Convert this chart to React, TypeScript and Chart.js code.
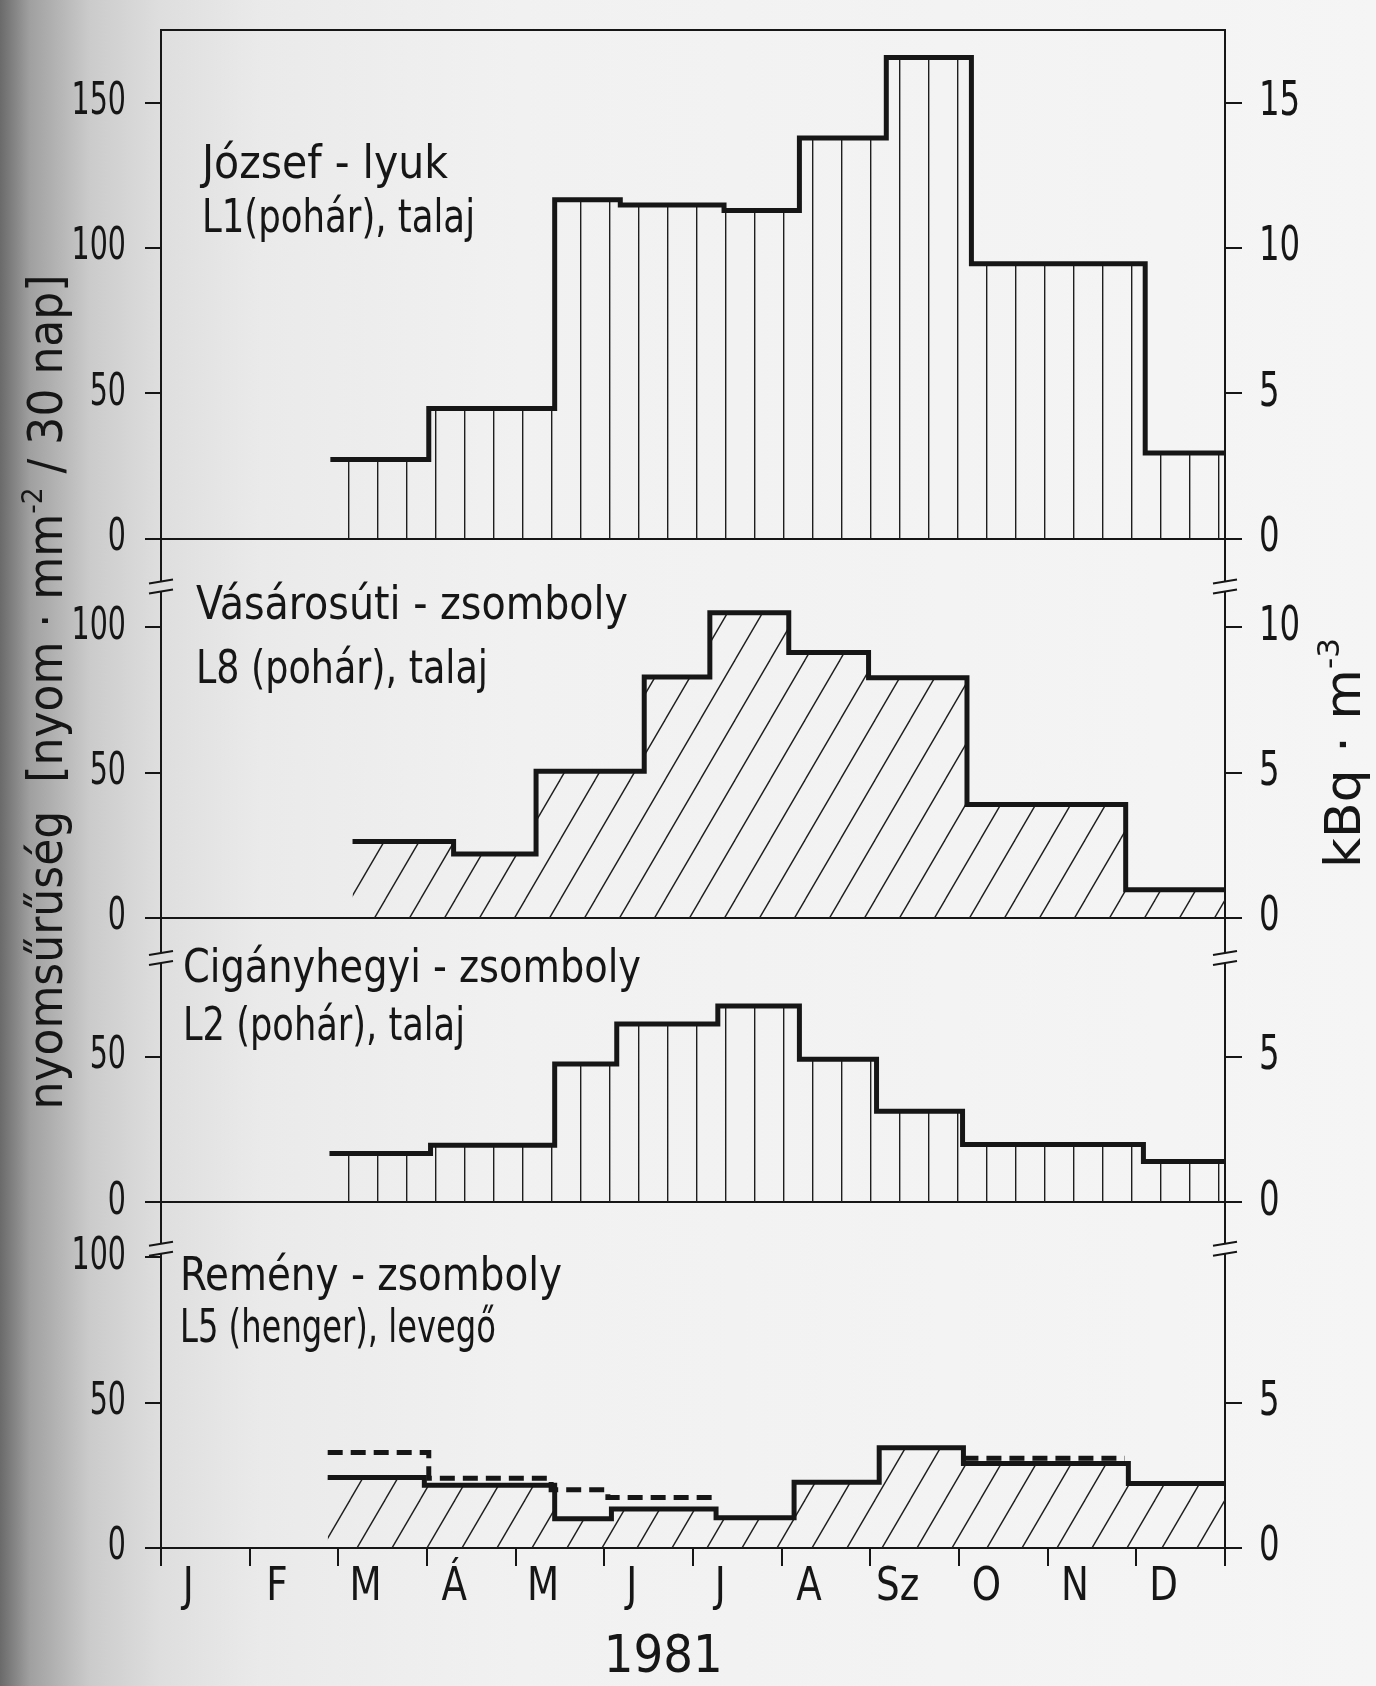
import React, { useEffect, useRef } from 'react';
import { Chart, registerables, LinearScale } from 'chart.js';

// Linear scale whose tick labels are drawn horizontally condensed (narrow lettering)
class CondensedLinearScale extends (LinearScale as any) {
  static id = 'condensedLinear';
  static defaults = LinearScale.defaults;
  drawLabels(chartArea: any) {
    const self: any = this;
    if (!self.options.ticks.display) return;
    const k = self.options.condense || 1;
    const ctx: CanvasRenderingContext2D = self.ctx;
    const items = self.getLabelItems(chartArea);
    for (const item of items) {
      const o = item.options;
      ctx.save();
      ctx.translate(o.translation[0], o.translation[1]);
      if (o.rotation) ctx.rotate(o.rotation);
      ctx.scale(k, 1);
      ctx.font = item.font.string;
      ctx.fillStyle = o.color;
      ctx.textAlign = o.textAlign;
      ctx.textBaseline = o.textBaseline;
      const lines = Array.isArray(item.label) ? item.label : [item.label];
      lines.forEach((ln: any, j: number) => ctx.fillText(String(ln), 0, item.textOffset + j * item.font.lineHeight));
      ctx.restore();
    }
  }
}

Chart.register(...registerables, CondensedLinearScale as any);

const FONT = "'Liberation Sans Narrow', 'DejaVu Sans Condensed', 'Liberation Sans', 'DejaVu Sans', sans-serif";
const INK = '#161616';

// ---- axis labels ----
const monthLabels = ['J', 'F', 'M', 'Á', 'M', 'J', 'J', 'A', 'Sz', 'O', 'N', 'D'];
const yearLabel = '1981';
const leftTitle = 'nyomsűrűség';
const leftUnitA = '[nyom · mm';
const leftUnitSup = '-2';
const leftUnitB = ' / 30 nap]';
const rightUnit = 'kBq · m';
const rightUnitSup = '-3';

// ---- panel titles ----
const panelNames = ['József - lyuk', 'Vásárosúti - zsomboly', 'Cigányhegyi - zsomboly', 'Remény - zsomboly'];
const panelSubs = ['L1(pohár), talaj', 'L8 (pohár), talaj', 'L2 (pohár), talaj', 'L5 (henger), levegő'];

// ---- ticks ----
const leftTicks = [[0, 50, 100, 150], [0, 50, 100], [0, 50], [0, 50, 100]];
const rightTicks = [[0, 5, 10, 15], [0, 5, 10], [0, 5], [0, 5]];
const panelMin = [-16.5, -13.8, -16, 0];
const panelMax = [175, 114, 84, 103];

// ---- data: step edges (in months from 1 Jan) and values ----
const jozsefEdges = [1.91, 3.02, 4.44, 5.18, 6.35, 7.2, 8.18, 9.14, 11.1, 12.0];
const jozsefValues = [27.2, 44.8, 116.6, 114.8, 112.9, 137.8, 165.5, 94.6, 29.5];

const vasarEdges = [2.16, 3.3, 4.23, 5.45, 6.19, 7.08, 7.98, 9.09, 10.88, 12.0];
const vasarValues = [26.3, 22.0, 50.5, 82.9, 105.0, 91.3, 82.6, 39.0, 9.7];

const ciganyEdges = [1.9, 3.04, 4.44, 5.14, 6.28, 7.2, 8.07, 9.04, 11.08, 12.0];
const ciganyValues = [16.7, 19.6, 47.5, 61.3, 67.5, 49.2, 31.3, 19.8, 14.0];

const remenyEdges = [1.88, 2.97, 4.44, 5.08, 6.26, 7.14, 8.1, 9.05, 10.91, 12.0];
const remenyValues = [24.3, 21.6, 10.1, 13.4, 10.4, 22.6, 34.5, 29.1, 22.2];

const remenyDashEdgesA = [1.88, 3.02, 4.4, 5.04, 6.22];
const remenyDashValuesA = [32.9, 24.0, 20.0, 17.4];
const remenyDashEdgesB = [9.05, 10.87];
const remenyDashValuesB = [30.9];

// ---- layout (pixels) ----
const LEFT_W = 161;
const RIGHT_W = 151;
const TOP_PAD = 30;
const BOTTOM_H = 138;
const titlePos = [
  { x: 202, y1: 178, w1: 246, y2: 232, w2: 273 },
  { x: 196, y1: 619, w1: 432, y2: 683, w2: 292 },
  { x: 183, y1: 982, w1: 458, y2: 1040, w2: 282 },
  { x: 180, y1: 1290, w1: 382, y2: 1342, w2: 316 },
];

function stepPoints(edges: number[], values: number[]) {
  return edges.map((x, i) => ({ x, y: values[Math.min(i, values.length - 1)] }));
}

function vPattern(ctx: CanvasRenderingContext2D) {
  const c = document.createElement('canvas');
  c.width = 29;
  c.height = 8;
  const g = c.getContext('2d')!;
  g.strokeStyle = '#1e1e1e';
  g.lineWidth = 1.4;
  g.beginPath();
  g.moveTo(0.7, 0);
  g.lineTo(0.7, 8);
  g.stroke();
  return ctx.createPattern(c, 'repeat')!;
}

function dPattern(ctx: CanvasRenderingContext2D) {
  const s = 35;
  const h = 60;
  const c = document.createElement('canvas');
  c.width = s;
  c.height = h;
  const g = c.getContext('2d')!;
  g.strokeStyle = '#1e1e1e';
  g.lineWidth = 1.4;
  for (const off of [-s, 0, s]) {
    g.beginPath();
    g.moveTo(off - s * 0.2, h * 1.2);
    g.lineTo(off + s * 1.2, -h * 0.2);
    g.stroke();
  }
  return ctx.createPattern(c, 'repeat')!;
}

type Seg = { t: string; s?: number; dy?: number };

function drawRich(
  ctx: CanvasRenderingContext2D,
  segs: Seg[],
  x: number,
  y: number,
  width: number,
  size: number,
  rotate: boolean,
  align: 'left' | 'center'
) {
  ctx.save();
  const widths = segs.map((sg) => {
    ctx.font = `${size * (sg.s || 1)}px ${FONT}`;
    return ctx.measureText(sg.t).width;
  });
  const total = widths.reduce((a, b) => a + b, 0);
  const k = width / total;
  ctx.translate(x, y);
  if (rotate) ctx.rotate(-Math.PI / 2);
  ctx.scale(k, 1);
  ctx.textBaseline = 'alphabetic';
  ctx.textAlign = 'left';
  ctx.fillStyle = INK;
  let cx = align === 'center' ? -total / 2 : 0;
  segs.forEach((sg, i) => {
    ctx.font = `${size * (sg.s || 1)}px ${FONT}`;
    ctx.fillText(sg.t, cx, -(sg.dy || 0) * size);
    cx += widths[i];
  });
  ctx.restore();
}

const decorPlugin = {
  id: 'decor',
  afterDraw(chart: any) {
    const ctx: CanvasRenderingContext2D = chart.ctx;
    const area = chart.chartArea;
    ctx.save();
    // top frame
    ctx.strokeStyle = INK;
    ctx.lineWidth = 2;
    ctx.beginPath();
    ctx.moveTo(area.left - 1, area.top);
    ctx.lineTo(area.right + 1, area.top);
    ctx.stroke();
    // axis breaks
    const bounds = [chart.scales.y1.bottom, chart.scales.y2.bottom, chart.scales.y3.bottom];
    for (const b of bounds) {
      for (const x of [area.left, area.right]) {
        ctx.clearRect(x - 2, b - 5, 4, 10);
        ctx.beginPath();
        ctx.moveTo(x - 12, b - 3);
        ctx.lineTo(x + 12, b - 7);
        ctx.moveTo(x - 12, b + 7);
        ctx.lineTo(x + 12, b + 3);
        ctx.stroke();
      }
    }
    ctx.restore();
    // panel titles
    panelNames.forEach((name, i) => {
      const p = titlePos[i];
      drawRich(ctx, [{ t: name }], p.x, p.y1, p.w1, 46, false, 'left');
      drawRich(ctx, [{ t: panelSubs[i] }], p.x, p.y2, p.w2, 46, false, 'left');
    });
    // axis titles
    drawRich(
      ctx,
      [{ t: leftTitle + '  ' + leftUnitA }, { t: leftUnitSup, s: 0.6, dy: 0.42 }, { t: leftUnitB }],
      62,
      692,
      835,
      48,
      true,
      'center'
    );
    drawRich(ctx, [{ t: rightUnit }, { t: rightUnitSup, s: 0.6, dy: 0.42 }], 1360, 753, 230, 50, true, 'center');
  },
};

const noPad = (s: any) => {
  s.paddingTop = 0;
  s.paddingBottom = 0;
  s.paddingLeft = 0;
  s.paddingRight = 0;
};

export default function App() {
  const ref = useRef<HTMLCanvasElement>(null);

  useEffect(() => {
    const canvas = ref.current!;
    const ctx = canvas.getContext('2d')!;
    const vp = vPattern(ctx);
    const dp = dPattern(ctx);

    const solid = (data: any[], yAxisID: string, pattern: CanvasPattern) => ({
      type: 'line',
      data,
      xAxisID: 'x',
      yAxisID,
      stepped: 'before',
      fill: 'origin',
      backgroundColor: pattern,
      borderColor: INK,
      borderWidth: 5,
      pointRadius: 0,
      order: 1,
    });

    const dashData = [
      ...stepPoints(remenyDashEdgesA, remenyDashValuesA),
      { x: 7.6, y: null },
      ...stepPoints(remenyDashEdgesB, remenyDashValuesB),
    ];

    const scales: any = {
      x: {
        type: 'condensedLinear',
        condense: 0.9,
        position: 'bottom',
        min: 0,
        max: 12,
        bounds: 'data',
        afterBuildTicks: (s: any) => {
          s.ticks = monthLabels.map((_, i) => ({ value: i + 0.5 }));
        },
        afterFit: (s: any) => {
          s.height = BOTTOM_H;
          noPad(s);
        },
        ticks: {
          autoSkip: false,
          maxRotation: 0,
          padding: -1,
          labelOffset: -17,
          color: INK,
          font: { family: FONT, size: 46, lineHeight: 1 },
          callback: (_v: any, i: number) => monthLabels[i],
        },
        grid: {
          offset: true,
          drawOnChartArea: false,
          drawTicks: true,
          tickLength: 18,
          tickWidth: 2,
          tickColor: INK,
          color: INK,
          lineWidth: 2,
        },
        border: { display: true, color: INK, width: 2 },
        title: {
          display: true,
          text: yearLabel + '    ',
          color: INK,
          font: { family: FONT, size: 52, lineHeight: 1 },
          padding: { top: 0, bottom: 2 },
        },
      },
    };

    panelMin.forEach((mn, i) => {
      const mx = panelMax[i];
      const range = mx - mn;
      scales['y' + (i + 1)] = {
        type: 'condensedLinear',
        condense: 0.72,
        position: 'left',
        stack: 'L',
        stackWeight: range,
        weight: 4 - i,
        min: mn,
        max: mx,
        bounds: 'data',
        afterBuildTicks: (s: any) => {
          s.ticks = leftTicks[i].map((v) => ({ value: v }));
        },
        afterFit: (s: any) => {
          s.width = LEFT_W;
          noPad(s);
        },
        ticks: { autoSkip: false, padding: 19, color: INK, font: { family: FONT, size: 44, lineHeight: 1 } },
        grid: {
          drawOnChartArea: true,
          drawTicks: true,
          tickLength: 16,
          tickWidth: 2,
          tickColor: INK,
          lineWidth: 2,
          color: (c: any) => (c.tick && c.tick.value === 0 ? INK : 'rgba(0,0,0,0)'),
        },
        border: { display: true, color: INK, width: 2 },
      };
      scales['r' + (i + 1)] = {
        type: 'condensedLinear',
        condense: 0.75,
        position: 'right',
        stack: 'R',
        stackWeight: range,
        weight: i + 1,
        min: mn / 10,
        max: mx / 10,
        bounds: 'data',
        afterBuildTicks: (s: any) => {
          s.ticks = rightTicks[i].map((v) => ({ value: v }));
        },
        afterFit: (s: any) => {
          s.width = RIGHT_W;
          noPad(s);
        },
        ticks: { autoSkip: false, padding: 17, color: INK, font: { family: FONT, size: 48, lineHeight: 1 } },
        grid: {
          drawOnChartArea: false,
          drawTicks: true,
          tickLength: 17,
          tickWidth: 2,
          tickColor: INK,
          color: INK,
          lineWidth: 2,
        },
        border: { display: true, color: INK, width: 2 },
      };
    });

    const chart = new Chart(ctx, {
      type: 'line',
      data: {
        datasets: [
          {
            type: 'line',
            data: dashData,
            xAxisID: 'x',
            yAxisID: 'y4',
            stepped: 'before',
            fill: false,
            borderColor: INK,
            borderWidth: 5,
            borderDash: [15, 8],
            pointRadius: 0,
            spanGaps: false,
            order: 0,
          } as any,
          solid(stepPoints(jozsefEdges, jozsefValues), 'y1', vp),
          solid(stepPoints(vasarEdges, vasarValues), 'y2', dp),
          solid(stepPoints(ciganyEdges, ciganyValues), 'y3', vp),
          solid(stepPoints(remenyEdges, remenyValues), 'y4', dp),
        ] as any,
      },
      options: {
        responsive: false,
        devicePixelRatio: 1,
        animation: false,
        events: [],
        layout: { padding: { top: TOP_PAD, left: 0, right: 0, bottom: 0 } },
        plugins: { legend: { display: false }, tooltip: { enabled: false } },
        scales,
      } as any,
      plugins: [decorPlugin],
    });
    return () => chart.destroy();
  }, []);

  return (
    <div
      style={{
        position: 'absolute',
        left: 0,
        top: 0,
        width: 1376,
        height: 1686,
        overflow: 'hidden',
        background:
          'linear-gradient(to right, #6a6a6a 0px, #a0a0a0 30px, #cbcbcb 90px, #dedede 160px, #eaeaea 260px, #f1f1f1 520px, #f5f5f5 1376px)',
      }}
    >
      <canvas ref={ref} width={1376} height={1686} style={{ display: 'block' }} />
    </div>
  );
}
